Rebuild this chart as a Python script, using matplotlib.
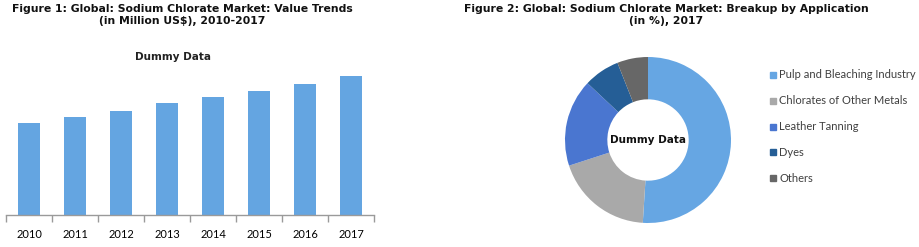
import matplotlib
matplotlib.use("Agg")
import matplotlib.pyplot as plt

years = ["2010", "2011", "2012", "2013", "2014", "2015", "2016", "2017"]
values = [92, 98, 104, 112, 118, 124, 131, 139]

apps = ["Pulp and Bleaching Industry", "Chlorates of Other Metals",
        "Leather Tanning", "Dyes", "Others"]
shares = [51, 19, 17, 7, 6]
pie_colors = ["#66A6E3", "#A9A9A9", "#4A76D0", "#255E96", "#676767"]

W, H = 920, 247
fig = plt.figure(figsize=(W / 100, H / 100), dpi=100)

def px_axes(x0, y0, x1, y1):
    return fig.add_axes([x0 / W, 1 - y1 / H, (x1 - x0) / W, (y1 - y0) / H])

# ---- Bar chart ----
ax = px_axes(6, 65, 374, 215)
xs = range(len(years))
ax.bar(xs, values, width=0.49, color="#64A5E1")
ax.set_xlim(-0.5, len(years) - 0.5)
ax.set_ylim(0, 150)
for s in ["top", "right", "left"]:
    ax.spines[s].set_visible(False)
ax.spines["bottom"].set_color("#9A9A9A")
ax.spines["bottom"].set_linewidth(1.0)
ax.set_yticks([])
ax.set_xticks([i - 0.5 for i in range(len(years) + 1)], minor=False)
ax.set_xticklabels([])
ax.tick_params(axis="x", which="major", length=5, color="#9A9A9A", width=1)
ax.set_xticks(list(xs), minor=True)
ax.set_xticklabels(years, minor=True, fontsize=8, family="Lato")
ax.tick_params(axis="x", which="minor", length=0, pad=10)

fig.text(182 / W, 1 - 15 / H,
         "Figure 1: Global: Sodium Chlorate Market: Value Trends\n(in Million US$), 2010-2017",
         ha="center", va="center", fontsize=7.8, fontweight="bold",
         color="#111111", linespacing=1.15)
fig.text(173 / W, 1 - 57 / H, "Dummy Data", ha="center", va="center",
         fontsize=7.5, fontweight="bold", color="#222222")

# ---- Donut chart ----
cx, cy, r = 648, 140, 83
pax = px_axes(cx - r, cy - r, cx + r, cy + r)
wedges, _ = pax.pie(shares, colors=pie_colors, startangle=90, counterclock=False,
                    radius=1, wedgeprops=dict(width=0.51, edgecolor="none"))
pax.set_xlim(-1, 1)
pax.set_ylim(-1, 1)
pax.set_aspect("equal")
pax.axis("off")
pax.text(0, 0, "Dummy Data", ha="center", va="center", fontsize=7.5,
         fontweight="bold", color="#111111")

fig.text(666 / W, 1 - 15 / H,
         "Figure 2: Global: Sodium Chlorate Market: Breakup by Application\n(in %), 2017",
         ha="center", va="center", fontsize=7.8, fontweight="bold",
         color="#111111", linespacing=1.15)

ys = [75, 101, 127, 152, 178]
for name, col, y in zip(apps, pie_colors, ys):
    fig.patches.append(plt.Rectangle(((770) / W, 1 - (y + 3) / H), 6 / W, 6 / H,
                                     transform=fig.transFigure, color=col,
                                     figure=fig))
    fig.text(779 / W, 1 - y / H, name, ha="left", va="center", fontsize=8,
             family="Lato", color="#404040")

fig.savefig("out.png", dpi=100)
